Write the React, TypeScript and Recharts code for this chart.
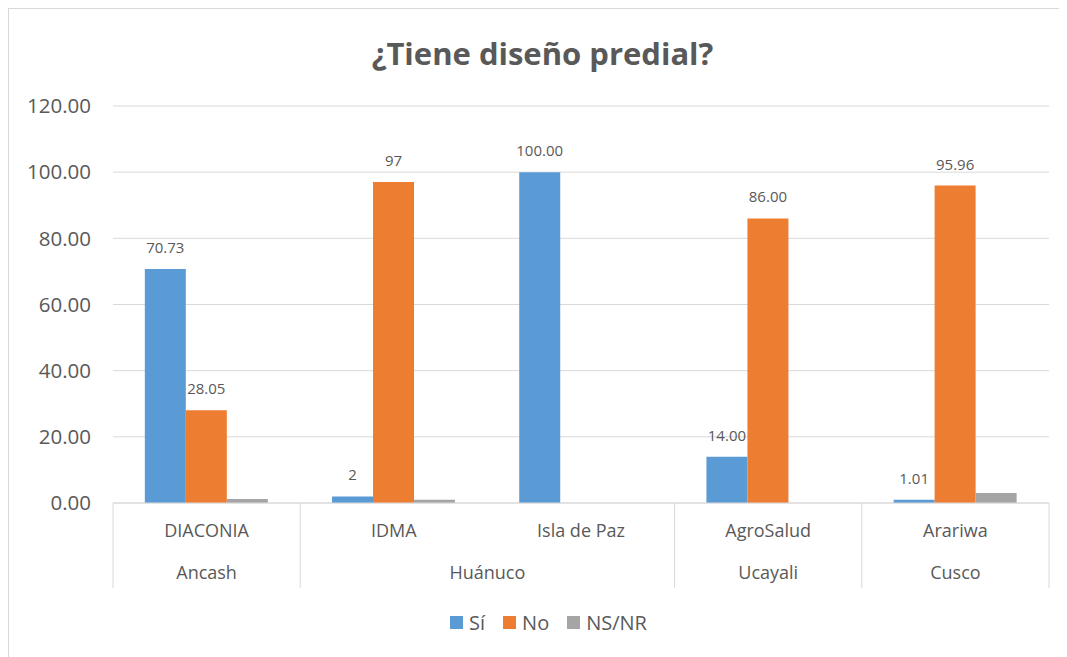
import React from "react";
import {
  BarChart,
  Bar,
  XAxis,
  YAxis,
  CartesianGrid,
  LabelList,
} from "recharts";

const organizations = ["DIACONIA", "IDMA", "Isla de Paz", "AgroSalud", "Arariwa"];
const regions = ["Ancash", "Huánuco", "Huánuco", "Ucayali", "Cusco"];
const siValues = [70.73, 2, 100, 14, 1.01];
const noValues = [28.05, 97, null, 86, 95.96];
const nsnrValues = [1.22, 1, null, null, 3.03];
const siLabels = ["70.73", "2", "100.00", "14.00", "1.01"];
const noLabels = ["28.05", "97", null, "86.00", "95.96"];
const yTicks = [0, 20, 40, 60, 80, 100, 120];

const series = [
  { key: "si", name: "Sí", color: "#5B9BD5" },
  { key: "no", name: "No", color: "#ED7D31" },
  { key: "nsnr", name: "NS/NR", color: "#A5A5A5" },
];

const data = organizations.map((org, i) => ({
  org,
  region: regions[i],
  si: siValues[i],
  no: noValues[i],
  nsnr: nsnrValues[i],
  siLabel: siLabels[i],
  noLabel: noLabels[i],
}));

const FONT = "'Open Sans', 'Noto Sans', sans-serif";
const TEXT = "#595959";
const LINE = "#d9d9d9";

// two-level category axis: organization on the first row, region below
function GroupedTick(props: any) {
  const { x, y, payload, index, width } = props;
  const step = width / organizations.length;
  const left = x - step / 2;
  const first = index === 0 || regions[index] !== regions[index - 1];
  const last = index === organizations.length - 1;
  let span = 1;
  if (first) {
    while (index + span < regions.length && regions[index + span] === regions[index]) span++;
  }
  return (
    <g>
      <text
        x={x}
        y={y + 34}
        textAnchor="middle"
        fill={TEXT}
        fontSize={18}
        fontFamily={FONT}
      >
        {payload.value}
      </text>
      {first && (
        <>
          <line x1={left} x2={left} y1={y} y2={y + 85} stroke={LINE} />
          <text
            x={left + (span * step) / 2}
            y={y + 76}
            textAnchor="middle"
            fill={TEXT}
            fontSize={18}
            fontFamily={FONT}
          >
            {regions[index]}
          </text>
        </>
      )}
      {last && (
        <line x1={x + step / 2} x2={x + step / 2} y1={y} y2={y + 85} stroke={LINE} />
      )}
    </g>
  );
}

export default function App() {
  return (
    <div
      style={{
        position: "relative",
        width: 1058,
        height: 648,
        borderLeft: `1px solid ${LINE}`,
        borderTop: `1px solid ${LINE}`,
        background: "#fff",
        fontFamily: FONT,
      }}
    >
      <div
        style={{
          position: "absolute",
          top: 23,
          left: 0,
          width: 1051,
          paddingLeft: 16,
          boxSizing: "border-box",
          textAlign: "center",
          fontSize: 31,
          fontWeight: 700,
          color: TEXT,
          pointerEvents: "none",
        }}
      >
        ¿Tiene diseño predial?
      </div>
      <BarChart
        width={1051}
        height={641}
        data={data}
        margin={{ top: 97, right: 11, left: 0, bottom: 47 }}
        barCategoryGap="17%"
        barGap={0}
      >
        <CartesianGrid vertical={false} stroke={LINE} />
        <YAxis
          width={104}
          domain={[0, 120]}
          ticks={yTicks}
          axisLine={false}
          tickLine={false}
          tickSize={0}
          tickMargin={22}
          tickFormatter={(v: number) => v.toFixed(2)}
          tick={{ fill: TEXT, fontSize: 20.5, fontFamily: FONT }}
        />
        <XAxis
          dataKey="org"
          height={100}
          axisLine={{ stroke: LINE }}
          tickLine={false}
          tickSize={0}
          tickMargin={0}
          interval={0}
          tick={<GroupedTick />}
        />
        <Bar dataKey="si" name="Sí" fill={series[0].color} isAnimationActive={false}>
          <LabelList
            dataKey="siLabel"
            position="top"
            offset={16}
            fill={TEXT}
            fontSize={15}
            fontFamily={FONT}
          />
        </Bar>
        <Bar dataKey="no" name="No" fill={series[1].color} isAnimationActive={false}>
          <LabelList
            dataKey="noLabel"
            position="top"
            offset={16}
            fill={TEXT}
            fontSize={15}
            fontFamily={FONT}
          />
        </Bar>
        <Bar dataKey="nsnr" name="NS/NR" fill={series[2].color} isAnimationActive={false} />
      </BarChart>
      <div
        style={{
          position: "absolute",
          top: 600,
          left: 0,
          width: 1051,
          paddingLeft: 28,
          boxSizing: "border-box",
          display: "flex",
          justifyContent: "center",
          alignItems: "center",
          gap: 18,
          fontSize: 20,
          color: TEXT,
        }}
      >
        {series.map((s) => (
          <div key={s.key} style={{ display: "flex", alignItems: "center", gap: 6 }}>
            <span style={{ width: 13, height: 13, background: s.color, display: "inline-block" }} />
            <span>{s.name}</span>
          </div>
        ))}
      </div>
    </div>
  );
}
